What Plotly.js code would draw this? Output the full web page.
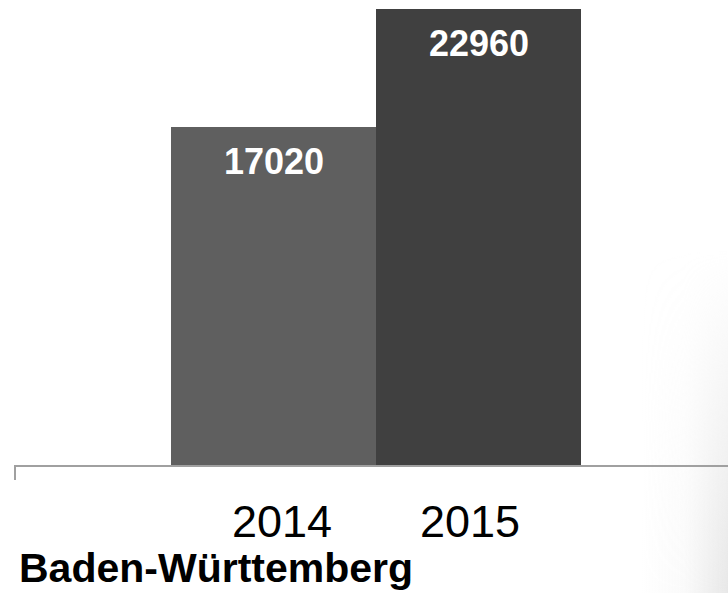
<!DOCTYPE html>
<html>
<head>
<meta charset="utf-8">
<script src="https://cdn.plot.ly/plotly-3.0.1.min.js"></script>
<style>html,body{margin:0;padding:0;background:#fff;}#chart{width:728px;height:593px;}</style>
</head>
<body>
<div id="chart"></div>
<script>
var years = ['2014', '2015'];
var values = [17020, 22960];
var barColors = ['#5f5f5f', '#404040'];
var regionLabel = 'Baden-Württemberg';

var FONT = 'Liberation Sans, Arial, sans-serif';
var tickShift = [8, -9];

var annotations = [];
years.forEach(function (y, i) {
  annotations.push({
    x: i, y: values[i], xref: 'x', yref: 'y',
    text: '<b>' + values[i] + '</b>', showarrow: false,
    yanchor: 'top', yshift: -12,
    font: {family: FONT, size: 36, color: '#ffffff'}
  });
  annotations.push({
    x: i, y: 0, xref: 'x', yref: 'y',
    text: y, showarrow: false,
    yanchor: 'top', yshift: -29, xshift: tickShift[i],
    font: {family: FONT, size: 45, color: '#000000'}
  });
});
annotations.push({
  x: 2 / 713, y: -(593 - 465) / 465, xref: 'paper', yref: 'paper', text: '<b>' + regionLabel + '</b>',
  showarrow: false, xanchor: 'left', yanchor: 'bottom',
  font: {family: FONT, size: 41, color: '#000000'}
});

var grad = 'data:image/svg+xml;utf8,' + encodeURIComponent(
  '<svg xmlns="http://www.w3.org/2000/svg" width="100" height="400" preserveAspectRatio="none">' +
  '<defs><linearGradient id="g" x1="0" y1="0" x2="1" y2="0">' +
  '<stop offset="0" stop-color="#d8d8d8" stop-opacity="0"/>' +
  '<stop offset="0.5" stop-color="#d8d8d8" stop-opacity="0.12"/>' +
  '<stop offset="1" stop-color="#d8d8d8" stop-opacity="0.6"/></linearGradient>' +
  '<linearGradient id="v" x1="0" y1="0" x2="0" y2="1">' +
  '<stop offset="0" stop-color="#fff" stop-opacity="0"/>' +
  '<stop offset="0.5" stop-color="#fff" stop-opacity="0.5"/>' +
  '<stop offset="1" stop-color="#fff" stop-opacity="1"/></linearGradient>' +
  '<mask id="m"><rect width="100" height="400" fill="url(#v)"/></mask></defs>' +
  '<rect width="100" height="400" fill="url(#g)" mask="url(#m)"/></svg>');

var trace = {
  type: 'bar', x: years, y: values,
  marker: {color: barColors, line: {width: 0}},
  width: 1, hoverinfo: 'skip'
};

var layout = {
  width: 728, height: 593,
  margin: {l: 15, r: 0, t: 0, b: 128, pad: 0},
  paper_bgcolor: '#ffffff', plot_bgcolor: 'rgba(0,0,0,0)',
  showlegend: false, bargap: 0,
  xaxis: {
    type: 'category', range: [-1.261, 2.217],
    showticklabels: false, ticks: '', showgrid: false, zeroline: false,
    showline: true, linecolor: '#a0a0a0', linewidth: 2, fixedrange: true
  },
  yaxis: {
    range: [0, 23413], visible: false, showgrid: false, zeroline: false, fixedrange: true
  },
  annotations: annotations,
  shapes: [{
    type: 'line', xref: 'paper', yref: 'paper', x0: 0, x1: 0, y0: 0, y1: -15 / 465,
    line: {color: '#a0a0a0', width: 2}
  }],
  images: [{
    source: grad, xref: 'paper', yref: 'paper', x: (640 - 15) / 713, y: (465 - 250) / 465,
    sizex: 88 / 713, sizey: 343 / 465, sizing: 'stretch', xanchor: 'left', yanchor: 'top', layer: 'below'
  }]
};

Plotly.newPlot('chart', [trace], layout, {displayModeBar: false, staticPlot: true});
</script>
</body>
</html>
